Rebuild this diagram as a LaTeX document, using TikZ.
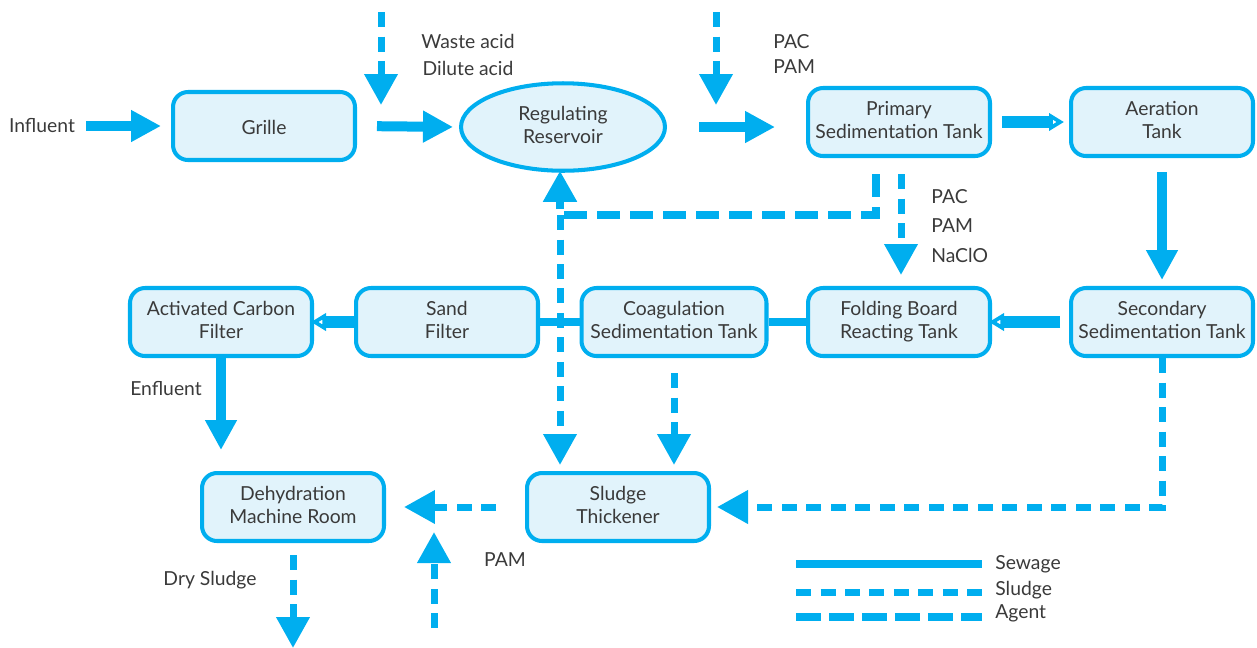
\documentclass[tikz,border=0pt]{standalone}
\usepackage{fontspec}
\setmainfont{Lato}
\usetikzlibrary{arrows.meta,shapes.geometric}
\definecolor{flowblue}{HTML}{00AEEF}
\definecolor{boxfill}{HTML}{E1F3FB}
\definecolor{txtgray}{HTML}{3A3A3A}
\newcommand{\boxstrut}{\rule[-2.6pt]{0pt}{15.2pt}}
\tikzset{
  unit/.style={draw=flowblue, line width=2.3pt, fill=boxfill, rounded corners=0.3cm,
    minimum width=3.64cm, minimum height=1.36cm, align=center, text=txtgray,
    font=\fontsize{11}{13}\selectfont, inner sep=1pt,
    execute at begin node=\boxstrut, execute at end node=\boxstrut},
  pool/.style={unit, ellipse, minimum width=4.08cm, minimum height=1.75cm},
  lbl/.style={text=txtgray, font=\fontsize{11}{13}\selectfont, inner sep=0pt},
  sewage/.style={draw=flowblue, line width=0.2cm, -{Triangle[length=0.6cm,width=0.6cm]}},
  sewopen/.style={draw=flowblue, line width=0.24cm,
    -{Triangle[open,length=0.3cm,width=0.34cm,line width=4pt]}},
  pipe/.style={draw=flowblue, line width=0.17cm},
  sludge/.style={draw=flowblue, line width=0.14cm, dash pattern=on 0.3cm off 0.19cm,
    -{Triangle[length=0.62cm,width=0.64cm]}},
  agent/.style={draw=flowblue, line width=0.16cm, dash pattern=on 0.46cm off 0.2cm,
    -{Triangle[length=0.62cm,width=0.64cm]}}
}
\begin{document}
\begin{tikzpicture}[x=0.02cm,y=-0.02cm]
 \useasboundingbox (0,0) rectangle (1257,647);
 % process units
 \node[lbl] (infl) at (42,126) {Influent};
 \node[unit] (grille) at (264,126) {Grille};
 \node[pool] (res) at (563,127) {Regulating\\Reservoir};
 \node[unit] (prim) at (899,122) {Primary\\Sedimentation Tank};
 \node[unit] (aer) at (1162,122) {Aeration\\Tank};
 \node[unit] (sec) at (1162,322) {Secondary\\Sedimentation Tank};
 \node[unit] (fold) at (899,322) {Folding Board\\Reacting Tank};
 \node[unit, minimum width=3.7cm] (coag) at (674,322) {Coagulation\\Sedimentation Tank};
 \node[unit] (sand) at (447,322) {Sand\\Filter};
 \node[unit] (acf) at (221,322) {Activated Carbon\\Filter};
 \node[unit] (dehyd) at (293,507) {Dehydration\\Machine Room};
 \node[unit] (thick) at (618,507) {Sludge\\Thickener};
 % sewage line
 \draw[sewage, shorten <=0.22cm, shorten >=0.2cm] (infl.east) -- (grille.west);
 \draw[sewage, shorten <=0.4cm, shorten >=0.12cm] (grille.east) -- (res.west);
 \draw[sewage, shorten <=0.64cm, shorten >=0.62cm] (res.east) -- (res.east -| prim.west);
 \draw[sewopen, shorten <=0.2cm, shorten >=0.1cm] (prim.east) -- (aer.west);
 \draw[sewage, shorten <=0.28cm, shorten >=0.12cm] (aer.south) -- (sec.north);
 \draw[sewopen, shorten <=0.18cm, shorten >=-0.06cm] (sec.west) -- (fold.east);
 \draw[pipe] (fold.west) -- (coag.east);
 \draw[pipe] (coag.west) -- (sand.east);
 \draw[sewopen, shorten >=-0.06cm] (sand.west) -- (acf.east);
 \draw[sewage, shorten >=0.42cm] (acf.south) -- (acf.south |- dehyd.north);
 % agents and sludge
 \coordinate (wa) at (381,12);
 \draw[sludge] (wa) -- ++(0,93);
 \coordinate (pc) at (716,12);
 \draw[sludge] (pc) -- ++(0,93);
 \coordinate (jn) at (560,215);
 \draw[agent, shorten >=-0.04cm] ([xshift=-0.46cm,yshift=-0.32cm]prim.south) |- (jn) -- (jn |- res.south);
 \draw[sludge, shorten >=0.12cm] (jn) -- (jn |- thick.north);
 \draw[sludge, shorten <=0.3cm, shorten >=0.12cm] (coag.south) -- (coag.south |- thick.north);
 \draw[sludge, shorten <=0.32cm, shorten >=0.22cm] ([xshift=0.04cm]prim.south) -- ([xshift=0.04cm]prim.south |- fold.north);
 \draw[sludge] (sec.south) |- ([xshift=0.12cm]thick.east);
 \draw[sludge, shorten <=0.58cm, shorten >=0.36cm] (thick.west) -- (dehyd.east);
 \draw[sludge, shorten <=0.24cm] (dehyd.south) -- ++(0,105);
 \coordinate (pm) at (434,628);
 \draw[sludge] (pm) -- ++(0,-96);
 % labels
 \node[lbl, align=center, font=\fontsize{11}{15}\selectfont] (acid) at (468,55) {Waste acid\\Dilute acid};
 \node[lbl, align=left, anchor=west, font=\fontsize{11}{14}\selectfont] (pac1) at (773,54) {PAC\\PAM};
 \node[lbl, align=left, anchor=west, font=\fontsize{11}{17}\selectfont] (pac2) at (931,226) {PAC\\PAM\\NaClO};
 \node[lbl] (efl) at (166,389) {Enfluent};
 \node[lbl] (dry) at (210,580) {Dry Sludge};
 \node[lbl] (pam) at (505,560) {PAM};
 % legend
 \node[lbl, anchor=west] (lsew) at (995,564) {Sewage};
 \node[lbl, anchor=west] (lsld) at (995,590) {Sludge};
 \node[lbl, anchor=west] (lagt) at (995,613) {Agent};
 \coordinate (lg1) at (796,564);
 \coordinate (lg2) at (796,592);
 \coordinate (lg3) at (796,617);
 \draw[draw=flowblue, line width=0.16cm] (lg1) -- (982,564);
 \draw[draw=flowblue, line width=0.14cm, dash pattern=on 0.3cm off 0.19cm] (lg2) -- (982,592);
 \draw[draw=flowblue, line width=0.16cm, dash pattern=on 0.5cm off 0.16cm] (lg3) -- (982,617);
\end{tikzpicture}
\end{document}
